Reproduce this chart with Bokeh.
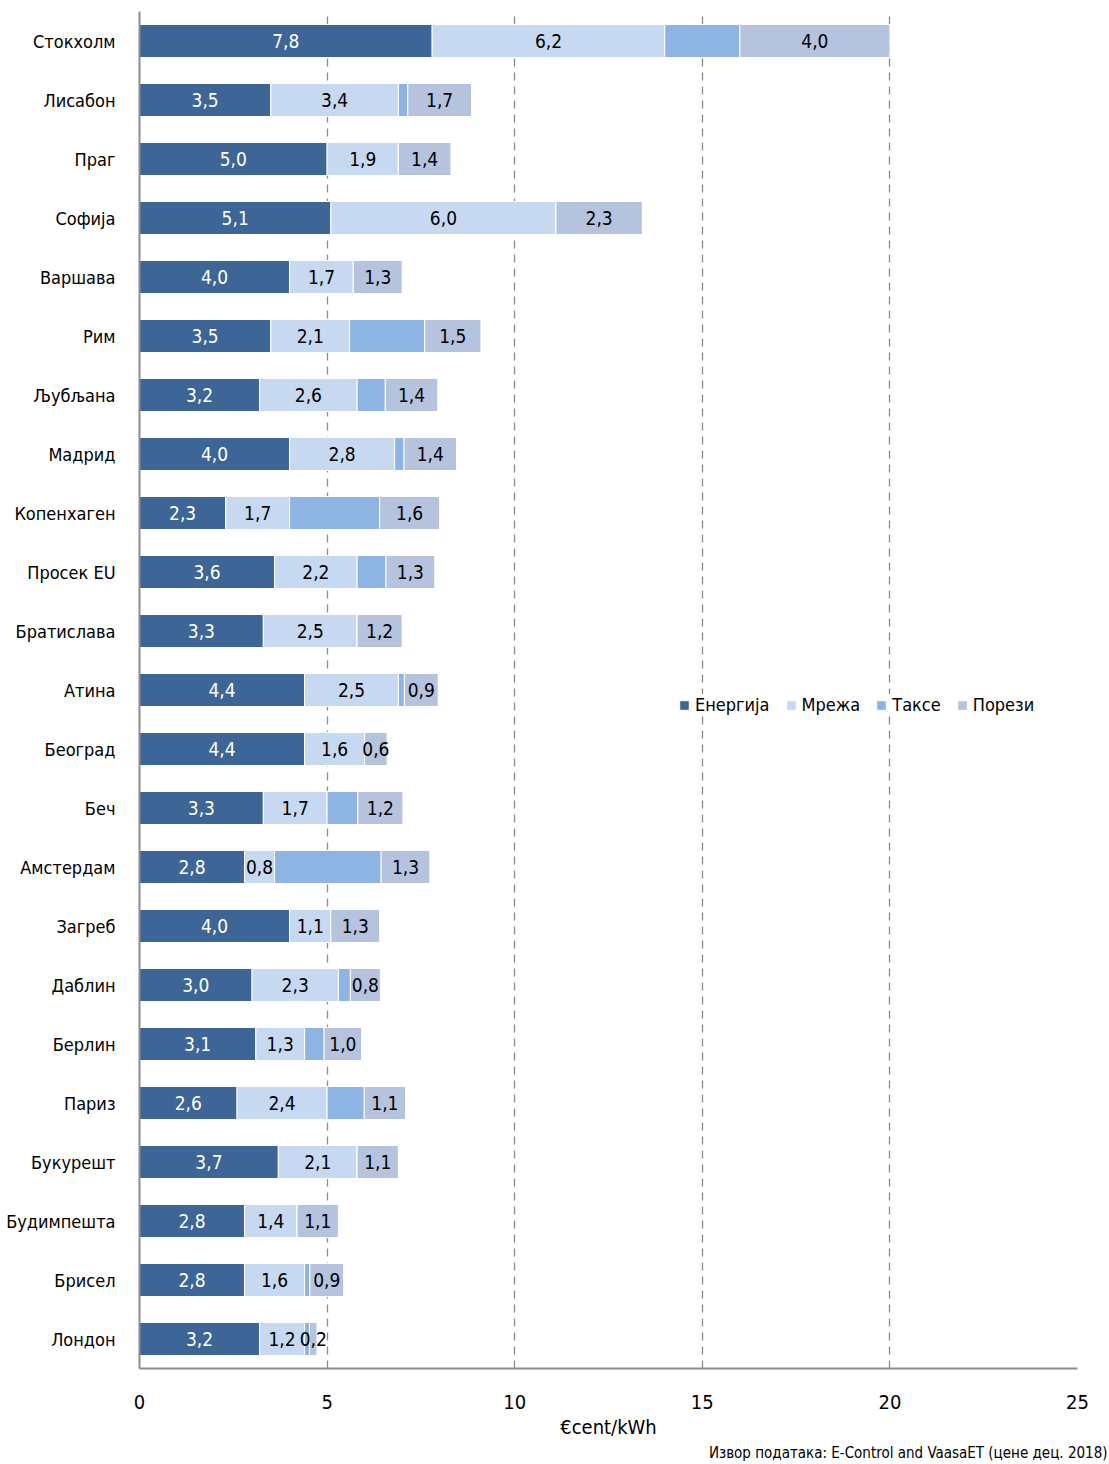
from bokeh.plotting import figure
from bokeh.models import (ColumnDataSource, FactorRange, Range1d, FixedTicker, Legend,
                          LegendItem, Title)
from bokeh.core.properties import value
from bokeh.embed import file_html
from bokeh.resources import INLINE

cities = ["Стокхолм", "Лисабон", "Праг", "Софија", "Варшава", "Рим", "Љубљана", "Мадрид",
          "Копенхаген", "Просек EU", "Братислава", "Атина", "Београд", "Беч", "Амстердам",
          "Загреб", "Даблин", "Берлин", "Париз", "Букурешт", "Будимпешта", "Брисел", "Лондон"]
energy = [7.8, 3.5, 5.0, 5.1, 4.0, 3.5, 3.2, 4.0, 2.3, 3.6, 3.3, 4.4, 4.4, 3.3, 2.8, 4.0,
          3.0, 3.1, 2.6, 3.7, 2.8, 2.8, 3.2]
network = [6.2, 3.4, 1.9, 6.0, 1.7, 2.1, 2.6, 2.8, 1.7, 2.2, 2.5, 2.5, 1.6, 1.7, 0.8, 1.1,
           2.3, 1.3, 2.4, 2.1, 1.4, 1.6, 1.2]
taxes = [2.0, 0.25, 0.0, 0.0, 0.0, 2.0, 0.75, 0.25, 2.4, 0.77, 0.0, 0.16, 0.0, 0.82, 2.84,
         0.0, 0.32, 0.52, 0.99, 0.0, 0.0, 0.14, 0.13]
porezi = [4.0, 1.7, 1.4, 2.3, 1.3, 1.5, 1.4, 1.4, 1.6, 1.3, 1.2, 0.9, 0.6, 1.2, 1.3, 1.3,
          0.8, 1.0, 1.1, 1.1, 1.1, 0.9, 0.2]
series_names = ["Енергија", "Мрежа", "Таксе", "Порези"]
x_ticks = [0, 5, 10, 15, 20, 25]
x_title = "€cent/kWh"
source_note = "Извор података: E-Control and VaasaET (цене дец. 2018)"

colors = ["#3D6696", "#C6D9F0", "#8DB4E2", "#B5C3DE"]
FONT = "DejaVu Sans Condensed"

src = ColumnDataSource(dict(city=cities, e=energy, n=network, t=taxes, p=porezi))

p = figure(width=1109, height=1464, y_range=FactorRange(factors=list(reversed(cities))),
           x_range=Range1d(0, 25), output_backend="svg", toolbar_location=None,
           min_border_left=139, min_border_right=32, min_border_top=11, min_border_bottom=96)
p.outline_line_color = None
p.background_fill_color = "white"

rs = p.hbar_stack(["e", "n", "t", "p"], y="city", height=0.56, color=colors,
                  line_color="white", line_width=1, source=src)

# value labels
def fmt(v):
    return f"{v:.1f}".replace(".", ",")

lab_x, lab_y, lab_t, lab_c = [], [], [], []
for i, c in enumerate(cities):
    s0 = energy[i]
    s1 = s0 + network[i]
    s2 = s1 + taxes[i]
    s3 = s2 + porezi[i]
    for lo, hi, v, col in ((0, s0, energy[i], "white"), (s0, s1, network[i], "black"),
                           (s2, s3, porezi[i], "black")):
        lab_x.append((lo + hi) / 2)
        lab_y.append(c)
        lab_t.append(fmt(v))
        lab_c.append(col)
lsrc = ColumnDataSource(dict(x=lab_x, y=lab_y, t=lab_t, c=lab_c))
p.text(x="x", y="y", text="t", source=lsrc, text_color="c", text_align="center",
       text_baseline="middle", text_font=value(FONT), text_font_size="19px")

# grid
p.ygrid.grid_line_color = None
p.xgrid.ticker = FixedTicker(ticks=x_ticks[1:])
p.xgrid.grid_line_color = "#8C8C8C"
p.xgrid.grid_line_dash = "8 6"
p.xgrid.grid_line_width = 1.3

# axes
p.xaxis.ticker = FixedTicker(ticks=x_ticks)
for ax in (p.xaxis[0], p.yaxis[0]):
    ax.major_tick_line_color = None
    ax.minor_tick_line_color = None
    ax.axis_line_color = "#8C8C8C"
    ax.axis_line_width = 2
    ax.major_label_text_font = FONT
    ax.major_label_text_color = "black"
p.yaxis.major_label_text_font_size = "18px"
p.xaxis.major_label_text_font_size = "20px"
p.yaxis.major_label_standoff = 18
p.xaxis.major_label_standoff = 20
p.xaxis.axis_label = x_title
p.xaxis.axis_label_text_font = FONT
p.xaxis.axis_label_text_font_size = "20px"
p.xaxis.axis_label_text_font_style = "normal"
p.xaxis.axis_label_text_color = "black"
p.xaxis.axis_label_standoff = 3

# source note below the axis, right aligned near the page edge
note = Title(text=source_note, align="right", offset=-30, standoff=0,
             text_font=FONT, text_font_size="15px", text_font_style="normal",
             text_color="black")
p.add_layout(note, "below")

# legend
items = [LegendItem(label=n, renderers=[r]) for n, r in zip(series_names, rs)]
leg = Legend(items=items, orientation="horizontal", location=(539, 653),
             glyph_width=12, glyph_height=12, label_standoff=5, spacing=15,
             padding=38, margin=0, border_line_color=None,
             background_fill_color="white", background_fill_alpha=1.0,
             label_text_font=FONT, label_text_font_size="18px", label_text_color="black")
p.add_layout(leg, "center")

open("out.html", "w").write(file_html(p, INLINE))
